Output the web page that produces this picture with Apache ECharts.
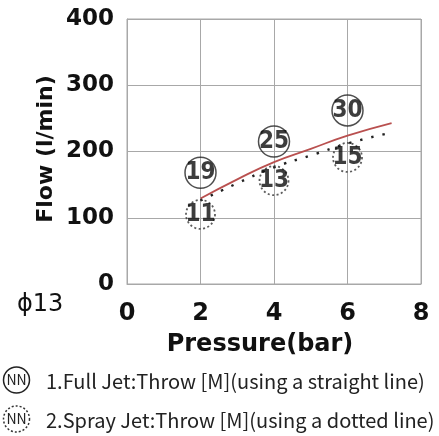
<!DOCTYPE html>
<html>
<head>
<meta charset="utf-8">
<script src="https://cdn.jsdelivr.net/npm/echarts@6/dist/echarts.min.js"></script>
<style>
html,body{margin:0;padding:0;background:#fff;}
#c{width:439px;height:436px;}
</style>
</head>
<body>
<div id="c"></div>
<script>
// ---- data ----
var xTicks = [0, 2, 4, 6, 8];
var yTicks = [0, 100, 200, 300, 400];
var fullJetFlow = [[2, 129], [3, 158], [4, 184], [5, 204], [6, 224], [7.2, 243]];
var sprayJetFlow = [[2, 126], [3, 152], [4, 176], [5, 194], [6, 212], [7.07, 227]];
var throwPressure = [2, 4, 6];
var fullJetThrow = [19, 25, 30];
var fullJetMarkY = [168, 215, 262];
var sprayJetThrow = [11, 13, 15];
var sprayJetMarkY = [105, 156, 191];
var nozzle = 'ϕ13';
var xName = 'Pressure(bar)';
var yName = 'Flow (l/min)';
var legend1 = '1.Full Jet:Throw [M](using a straight line)';
var legend2 = '2.Spray Jet:Throw [M](using a dotted line)';

var chart = echarts.init(document.getElementById('c'));
function marks(ys, vals) {
  return throwPressure.map(function (p, i) { return { value: [p, ys[i]], t: vals[i] }; });
}
var gridColor = '#a8a8a8';
var markLabel = {
  show: true, position: 'inside', color: '#0d0d0d',
  fontFamily: 'DejaVu Sans Condensed', fontWeight: 'bold', fontSize: 24,
  formatter: function (p) { return String(p.data.t); }
};
chart.setOption({
  animation: false,
  backgroundColor: '#fff',
  grid: { left: 127, right: 18, top: 19, bottom: 152, containLabel: false, show: true, borderColor: gridColor, borderWidth: 1 },
  xAxis: {
    type: 'value', min: 0, max: 8, interval: 2,
    axisLine: { show: true, lineStyle: { color: gridColor } },
    axisTick: { show: false },
    splitLine: { show: true, lineStyle: { color: gridColor } },
    axisLabel: { margin: 18, color: '#111', fontFamily: 'DejaVu Sans', fontWeight: 'bold', fontSize: 24,
      formatter: function (v) { return xTicks.indexOf(v) >= 0 ? String(v) : ''; } }
  },
  yAxis: {
    type: 'value', min: 0, max: 400, interval: 100,
    axisLine: { show: true, lineStyle: { color: gridColor } },
    axisTick: { show: false },
    splitLine: { show: true, lineStyle: { color: gridColor } },
    axisLabel: { margin: 13, color: '#111', fontFamily: 'DejaVu Sans', fontWeight: 'bold', fontSize: 23,
      formatter: function (v) { return yTicks.indexOf(v) >= 0 ? String(v) : ''; } }
  },
  series: [
    { type: 'line', data: fullJetFlow, smooth: true, showSymbol: false, symbol: 'none',
      lineStyle: { color: '#b9504f', width: 1.8 }, z: 3 },
    { type: 'line', data: sprayJetFlow, smooth: true, showSymbol: false, symbol: 'none',
      lineStyle: { color: '#222', width: 2.4, type: [2.4, 9], cap: 'butt' }, z: 3 },
    { type: 'scatter', data: marks(fullJetMarkY, fullJetThrow), symbol: 'circle', symbolSize: 31,
      itemStyle: { color: 'rgba(255,255,255,0)', borderColor: '#222', borderWidth: 1.5 },
      label: markLabel, z: 4 },
    { type: 'scatter', data: marks(sprayJetMarkY, sprayJetThrow), symbol: 'circle', symbolSize: 29,
      itemStyle: { color: 'rgba(255,255,255,0)', borderColor: '#333', borderWidth: 1.8, borderType: [2, 2.5] },
      label: markLabel, z: 4 }
  ],
  graphic: [
    { type: 'text', x: 260, y: 345, style: { text: xName, align: 'center', verticalAlign: 'middle',
      fontFamily: 'DejaVu Sans', fontWeight: 'bold', fontSize: 24, fill: '#111' } },
    { type: 'text', x: 46, y: 149, rotation: Math.PI / 2, style: { text: yName, align: 'center', verticalAlign: 'middle',
      fontFamily: 'DejaVu Sans', fontWeight: 'bold', fontSize: 22, fill: '#111' } },
    { type: 'text', x: 17, y: 305, style: { text: nozzle, align: 'left', verticalAlign: 'middle',
      fontFamily: 'DejaVu Sans', fontSize: 24, fill: '#111' } },
    { type: 'circle', shape: { cx: 16.5, cy: 380, r: 13 }, style: { fill: 'none', stroke: '#222', lineWidth: 1.5 } },
    { type: 'text', x: 16.5, y: 380, style: { text: 'NN', align: 'center', verticalAlign: 'middle',
      fontFamily: 'Noto Sans CJK SC', fontSize: 14, fill: '#222' } },
    { type: 'circle', shape: { cx: 16.5, cy: 419, r: 13 }, style: { fill: 'none', stroke: '#333', lineWidth: 1.5, lineDash: [2, 2] } },
    { type: 'text', x: 16.5, y: 419, style: { text: 'NN', align: 'center', verticalAlign: 'middle',
      fontFamily: 'Noto Sans CJK SC', fontSize: 14, fill: '#222' } },
    { type: 'text', x: 46, y: 381, style: { text: legend1, align: 'left', verticalAlign: 'middle',
      fontFamily: 'Noto Sans CJK SC', fontSize: 20, fill: '#222' } },
    { type: 'text', x: 46, y: 420, style: { text: legend2, align: 'left', verticalAlign: 'middle',
      fontFamily: 'Noto Sans CJK SC', fontSize: 20, fill: '#222' } }
  ]
});
</script>
</body>
</html>
